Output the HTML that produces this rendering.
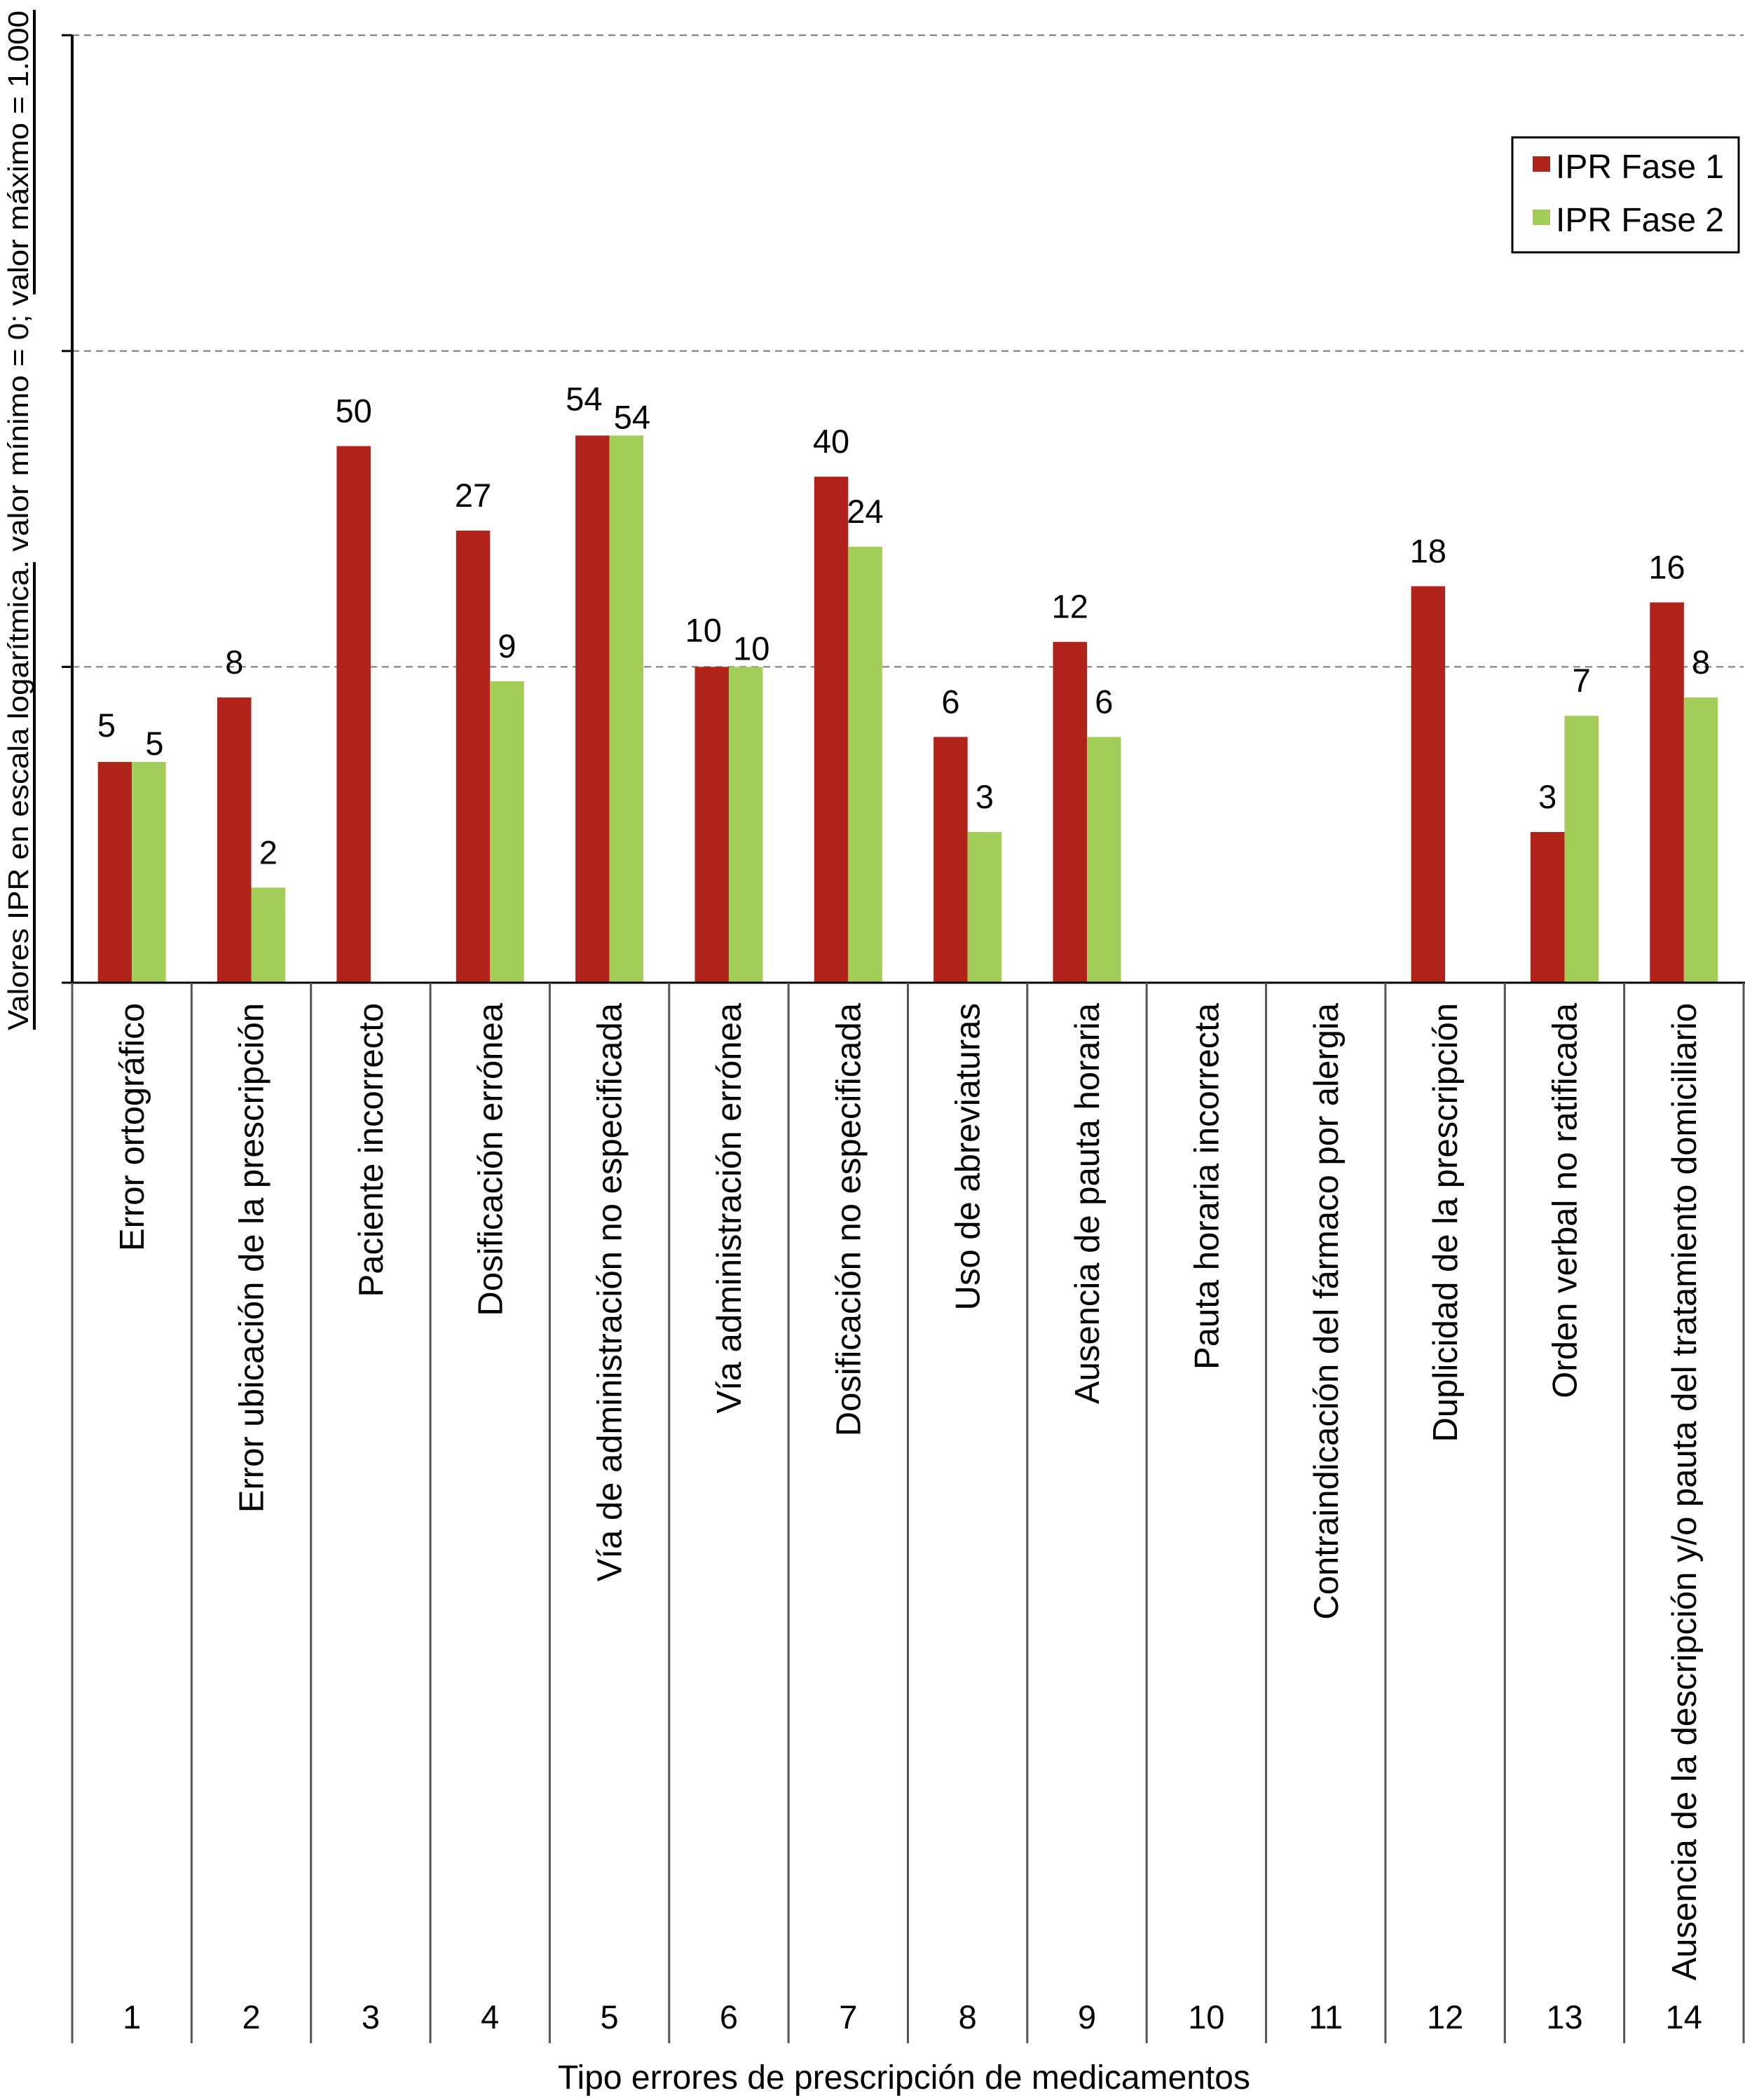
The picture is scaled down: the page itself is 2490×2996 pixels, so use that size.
<!DOCTYPE html>
<html><head><meta charset="utf-8"><style>
html,body{margin:0;padding:0;background:#fff;}
svg{display:block;font-family:"Liberation Sans",Arial,sans-serif;}
</style></head><body>
<svg id="chart" width="2490" height="2996" viewBox="0 0 2490 2996" xmlns="http://www.w3.org/2000/svg">
<g id="grid"></g>
<g id="bars"></g>
<g id="axes"></g>
<g id="labels"></g>
<g>
  <text x="0" y="0" transform="translate(40,1470) rotate(-90)" font-size="41" textLength="1455" lengthAdjust="spacingAndGlyphs">Valores IPR en escala logarítmica.  valor mínimo = 0; valor máximo = 1.000</text>
  <line x1="49" y1="802" x2="49" y2="1469" stroke="#000" stroke-width="4"/>
  <line x1="49" y1="14" x2="49" y2="420" stroke="#000" stroke-width="4"/>
</g>
<text x="1290" y="2980" font-size="48" text-anchor="middle">Tipo errores de prescripción de medicamentos</text>
<g>
  <rect x="2158" y="196" width="323" height="164" fill="#fff" stroke="#000" stroke-width="3"/>
  <rect x="2187" y="223" width="25" height="22" fill="#B0221A"/>
  <text x="2220" y="254" font-size="48">IPR Fase 1</text>
  <rect x="2187" y="299" width="25" height="22" fill="#A3CD59"/>
  <text x="2220" y="330" font-size="48">IPR Fase 2</text>
</g>
</svg>
<script>
const categories = ["Error ortográfico","Error ubicación de la prescripción","Paciente incorrecto","Dosificación errónea","Vía de administración no especificada","Vía administración errónea","Dosificación no especificada","Uso de abreviaturas","Ausencia de pauta horaria","Pauta horaria incorrecta","Contraindicación del fármaco por alergia","Duplicidad de la prescripción","Orden verbal no ratificada","Ausencia de la descripción y/o pauta del tratamiento domiciliario"];
const categoryNumbers = ["1","2","3","4","5","6","7","8","9","10","11","12","13","14"];
const fase1 = [5,8,50,27,54,10,40,6,12,null,null,18,3,16];
const fase2 = [5,2,null,9,54,10,24,3,6,null,null,null,7,8];
const yTicks = [1,10,100,1000];

const NS="http://www.w3.org/2000/svg";
const X0=103, X1=2488, Y0=1402, DEC=450.6;
const n=categories.length, bw=(X1-X0)/n;
function yScale(v){return Y0-Math.log10(v)*DEC;}
function xCat(i){return X0+i*bw;}
function mk(tag,attrs,parent){const e=document.createElementNS(NS,tag);for(const k in attrs)e.setAttribute(k,attrs[k]);parent.appendChild(e);return e;}
const grid=document.getElementById('grid'),bars=document.getElementById('bars'),axes=document.getElementById('axes'),labels=document.getElementById('labels');

yTicks.forEach(t=>{
  const y=yScale(t);
  if(t>1){const l=mk('line',{x1:X0,y1:y,x2:X1,y2:y,stroke:'#777','stroke-width':2,'stroke-dasharray':'10,7'},grid);
  
  }
  const tk=mk('line',{x1:88,y1:y,x2:X0,y2:y,stroke:'#000','stroke-width':3},axes);
  
  
});
const ya=mk('line',{x1:X0,y1:yScale(1000),x2:X0,y2:Y0,stroke:'#000','stroke-width':4},axes);


const xa=mk('line',{x1:88,y1:Y0,x2:X1+2,y2:Y0,stroke:'#000','stroke-width':3},axes);


for(let i=0;i<=n;i++){
  const d=mk('line',{x1:xCat(i),y1:Y0,x2:xCat(i),y2:2915,stroke:'#555','stroke-width':3},axes);
  
  
}
const barW=48.5;
categories.forEach((c,i)=>{
  const cx=xCat(i)+bw/2;
  const a=fase1[i], b=fase2[i];
  const close = a!=null && b!=null && Math.abs(yScale(a)-yScale(b))<40;
  [[a,'#B0221A',cx-barW,'fase1'],[b,'#A3CD59',cx,'fase2']].forEach(([v,col,x,s])=>{
    if(v==null) return;
    const y=yScale(v);
    const r=mk('rect',{x:x,y:y,width:barW,height:Y0-y,fill:col},bars);
    
    
    let gap=34, dx=0;
    if(close){ gap = s==='fase1'?36:10; dx = s==='fase1'?-12:8; }
    const t=mk('text',{x:x+barW/2+dx,y:y-gap,'font-size':47,'text-anchor':'middle'},bars);
    t.textContent=String(v);
    
    
  });
  const lt=mk('text',{x:0,y:0,'font-size':49,'text-anchor':'end',transform:`translate(${cx+17},1431) rotate(-90)`},labels);
  lt.textContent=c;
  
  
  const nt=mk('text',{x:cx,y:2894,'font-size':47,'text-anchor':'middle'},labels);
  nt.textContent=categoryNumbers[i];
  
  
});
</script>
</body></html>
